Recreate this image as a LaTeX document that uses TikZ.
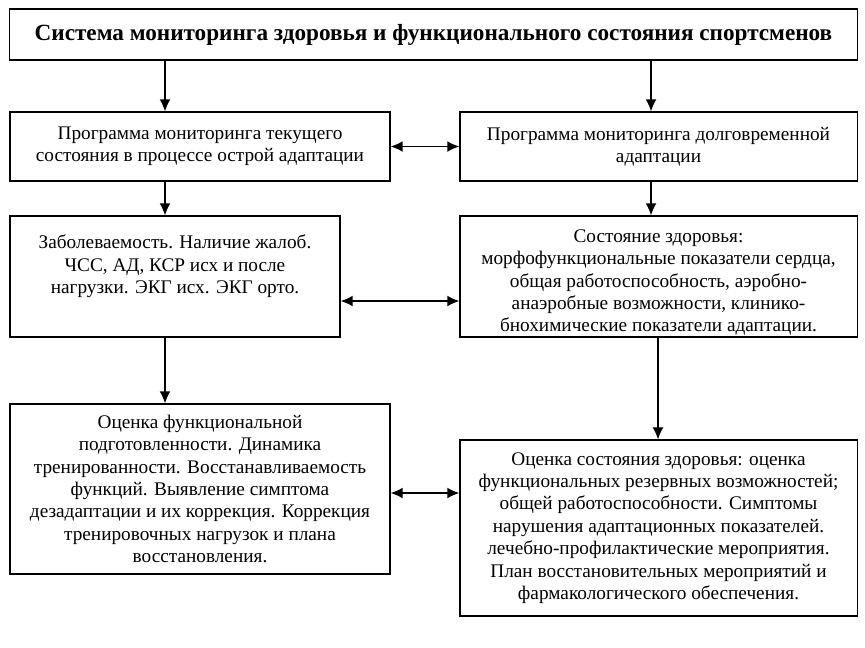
\documentclass[tikz,border=0pt]{standalone}
\usepackage{fontspec}
\setmainfont{Liberation Serif}
\usetikzlibrary{arrows.meta}
\begin{document}
\begin{tikzpicture}[x=0.025cm, y=-0.025cm,
		mynode/.style={draw, line width=0.8pt, align=center, inner sep=2pt, font=\fontsize{13.7}{15.9}\selectfont},
		mytext/.style={align=center, font=\fontsize{13.7}{15.9}\selectfont},
		myarrow/.style={-{Latex[length=0.3cm, width=0.27cm]}, line width=1.1pt},
		myboth/.style={{Latex[length=0.3cm, width=0.27cm]}-{Latex[length=0.3cm, width=0.27cm]}, line width=1.1pt}
	]
		\useasboundingbox (0,0) rectangle (865,647);

		\node[mynode, minimum width=21.175cm, minimum height=1.275cm, font=\fontsize{16.5}{20}\selectfont\bfseries] (title) at (433.5,34.5) {Система мониторинга здоровья и функционального состояния спортсменов};

		\node[mynode, minimum width=9.5cm, minimum height=1.725cm] (cur) at (200,146.5) {Программа мониторинга текущего\\состояния в процессе острой адаптации};
		\node[mynode, minimum width=9.925cm, minimum height=1.725cm] (long) at (658.5,146.5) {Программа мониторинга долговременной\\адаптации};

		\node[mynode, minimum width=8.25cm, minimum height=3.025cm] (zab) at (175,276.5) {};
		\node[mytext, anchor=north, yshift=-0.37cm] (zabtxt) at (zab.north) {Заболеваемость. Наличие жалоб.\\ЧСС, АД, КСР исх и после\\нагрузки. ЭКГ исх. ЭКГ орто.};
		\node[mynode, minimum width=9.925cm, minimum height=3.025cm] (zdor) at (658.5,276.5) {};
		\node[mytext, yshift=-0.15cm] (zdortxt) at (zdor.center) {Состояние здоровья:\\морфофункциональные показатели сердца,\\общая работоспособность, аэробно-\\анаэробные возможности, клинико-\\бнохимические показатели адаптации.};

		\node[mynode, minimum width=9.5cm, minimum height=4.25cm] (func) at (200,489) {Оценка функциональной\\подготовленности. Динамика\\тренированности. Восстанавливаемость\\функций. Выявление симптома\\дезадаптации и их коррекция. Коррекция\\тренировочных нагрузок и плана\\восстановления.};
		\node[mynode, minimum width=9.925cm, minimum height=4.4cm] (ocen) at (658.5,528) {Оценка состояния здоровья: оценка\\функциональных резервных возможностей;\\общей работоспособности. Симптомы\\нарушения адаптационных показателей.\\лечебно-профилактические мероприятия.\\План восстановительных мероприятий и\\фармакологического обеспечения.};

		\coordinate (lx) at (165,0);
		\coordinate (rx) at (651,0);
		\coordinate (ry) at (658,0);
		\coordinate (y3) at (0,301);
		\coordinate (y4) at (0,493);

		\draw[myarrow] (title.south -| lx) -- (cur.north -| lx);
		\draw[myarrow] (title.south -| rx) -- (long.north -| rx);
		\draw[myarrow] (cur.south -| lx) -- (zab.north -| lx);
		\draw[myarrow] (long.south -| rx) -- (zdor.north -| rx);
		\draw[myarrow] (zab.south -| lx) -- (func.north -| lx);
		\draw[myarrow, line width=0.8pt] (zdor.south -| ry) -- (ocen.north -| ry);

		\draw[myboth] (cur) -- (long);
		\draw[myboth] (zab.east |- y3) -- (zdor.west |- y3);
		\draw[myboth] (func.east |- y4) -- (ocen.west |- y4);
	\end{tikzpicture}
\end{document}
